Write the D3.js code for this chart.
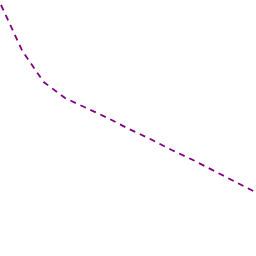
<!DOCTYPE html>
<html>
<head>
<meta charset="utf-8">
<script src="https://cdn.jsdelivr.net/npm/d3@7"></script>
<style>
  html, body { margin: 0; padding: 0; background: #fff; }
</style>
</head>
<body>
<div id="chart"></div>
<script>
var width = 256;
var height = 256;

// data
var steps = [0, 1, 2, 3, 4, 5, 6, 7, 8, 9, 10, 11, 12];
var values = [251, 205, 174, 158, 148, 138, 127, 117, 106, 96, 85, 74, 63];

var svg = d3.select("#chart")
    .append("svg")
    .attr("width", width)
    .attr("height", height);

var x = d3.scaleLinear()
    .domain([0, 12])
    .range([1, 257]);

var y = d3.scaleLinear()
    .domain([0, 256])
    .range([256, 0]);

var line = d3.line()
    .x(function(d, i) { return x(steps[i]); })
    .y(function(d) { return y(d); });

svg.append("path")
    .datum(values)
    .attr("fill", "none")
    .attr("stroke", "#800080")
    .attr("stroke-width", 1.8)
    .attr("stroke-dasharray", "6,5")
    .attr("d", line);
</script>
</body>
</html>
